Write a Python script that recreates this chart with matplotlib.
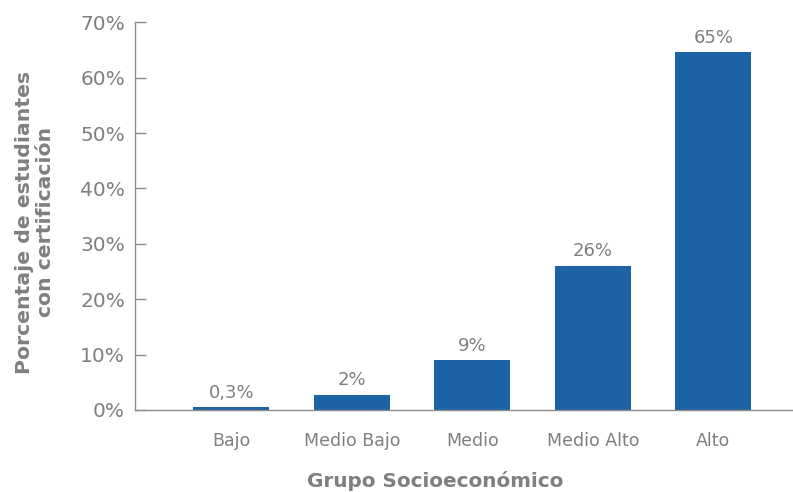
import matplotlib
matplotlib.use("Agg")
import matplotlib.pyplot as plt
from matplotlib.ticker import FuncFormatter

categories = ["Bajo", "Medio Bajo", "Medio", "Medio Alto", "Alto"]
values = [0.5, 2.7, 9.0, 26.0, 64.6]
value_labels = ["0,3%", "2%", "9%", "26%", "65%"]

bar_color = "#1b63a5"
text_gray = "#7f7f7f"
axis_gray = "#8c8c8c"

plt.rcParams["font.family"] = ["DejaVu Sans"]

fig = plt.figure(figsize=(7.93, 4.92), dpi=100)
ax = fig.add_axes([0.170, 0.1667, 0.830, 0.788])

x = list(range(len(categories)))
bars = ax.bar(x, values, width=0.63, color=bar_color, zorder=2)
for xi, v, lab in zip(x, values, value_labels):
    ax.annotate(lab, (xi, v), xytext=(0, 4), textcoords="offset points",
                ha="center", va="bottom", fontsize=13, color=text_gray)

ax.set_xlim(-0.8, 4.66)
ax.set_ylim(0, 70)
ax.set_yticks(range(0, 71, 10))
ax.yaxis.set_major_formatter(FuncFormatter(lambda v, p: f"{int(v)}%"))
ax.set_xticks(x)
ax.set_xticklabels(categories)

for s in ["top", "right"]:
    ax.spines[s].set_visible(False)
for s in ["left", "bottom"]:
    ax.spines[s].set_color(axis_gray)
    ax.spines[s].set_linewidth(1.0)

ax.tick_params(axis="y", direction="in", length=8, width=1.0, color=axis_gray,
               labelsize=14.5, labelcolor=text_gray, pad=7)
ax.tick_params(axis="x", length=0, labelsize=12.5, labelcolor=text_gray, pad=16)

fig.text(35 / 793, 1 - 222 / 492, "Porcentaje de estudiantes\ncon certificación",
         rotation=90, ha="center", va="center", fontsize=14.7, fontweight="bold",
         color=text_gray, linespacing=1.15)
fig.text(435 / 793, 1 - 481 / 492, "Grupo Socioeconómico", ha="center",
         va="center", fontsize=14.4, fontweight="bold", color=text_gray)

fig.savefig("out.png", dpi=100)
